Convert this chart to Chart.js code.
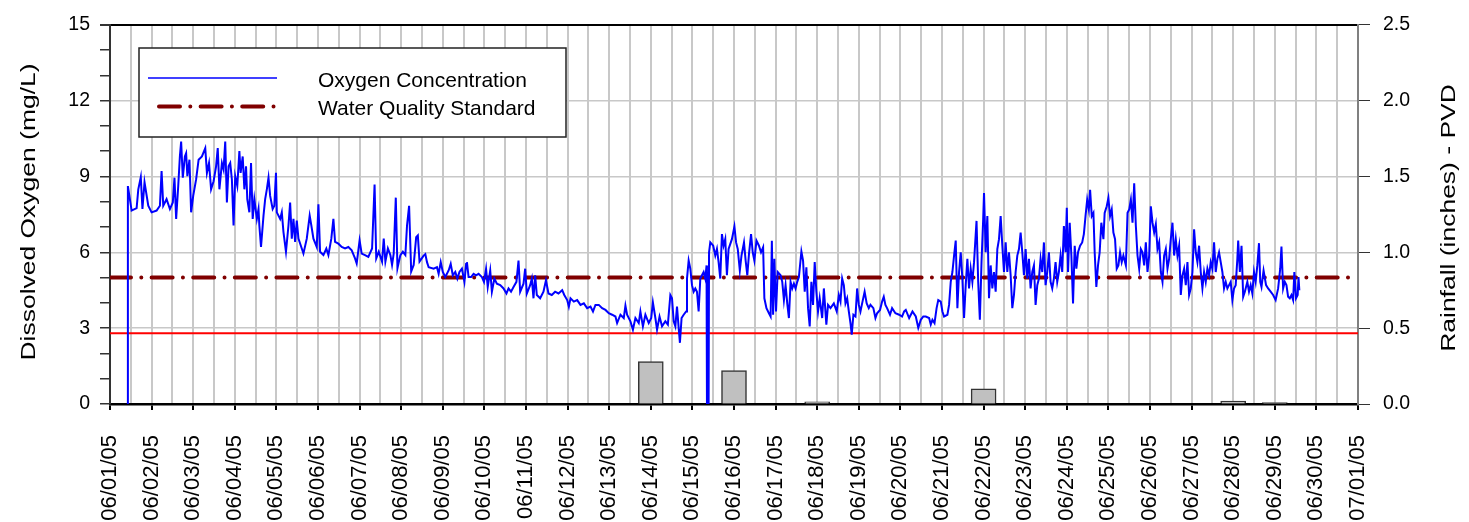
<!DOCTYPE html>
<html lang="en">
<head>
  <meta charset="UTF-8">
  <title>Dissolved Oxygen and Rainfall - June 2005</title>
  <style>
    html, body {
      margin: 0;
      padding: 0;
      background: #fff;
    }
    #wrap {
      width: 1469px;
      height: 522px;
    }
  </style>
</head>
<body>

  <div id="wrap">
    <canvas id="doChart" width="1469" height="522"></canvas>
  </div>

  <script src="https://cdn.jsdelivr.net/npm/chart.js"></script>
  <script>
    // x axis: days after 06/01/05 00:00, one label per day
    const dateLabels = [
      '06/01/05', '06/02/05', '06/03/05', '06/04/05', '06/05/05', '06/06/05', '06/07/05', '06/08/05',
      '06/09/05', '06/10/05', '06/11/05', '06/12/05', '06/13/05', '06/14/05', '06/15/05', '06/16/05',
      '06/17/05', '06/18/05', '06/19/05', '06/20/05', '06/21/05', '06/22/05', '06/23/05', '06/24/05',
      '06/25/05', '06/26/05', '06/27/05', '06/28/05', '06/29/05', '06/30/05', '07/01/05'
    ];

    // oxygen readings, [day, mg/L]
    const oxWeek1 = [
      [0.42, 0], [0.43, 8.62], [0.52, 7.65], [0.64, 7.75], [0.68, 8.49], [0.74, 8.97], [0.78, 7.71], [0.83, 8.77], [0.92, 7.84],
      [1.00, 7.58], [1.12, 7.65], [1.20, 7.84], [1.24, 9.21], [1.28, 7.84], [1.36, 8.10], [1.44, 7.71], [1.51, 7.97], [1.55, 8.95],
      [1.59, 7.32], [1.64, 8.62], [1.68, 9.79], [1.71, 10.38], [1.75, 8.95], [1.80, 9.79], [1.83, 9.92], [1.86, 9.01], [1.91, 9.66], [1.95, 7.58],
      [2.00, 8.23], [2.07, 8.88], [2.13, 9.66], [2.21, 9.79], [2.29, 10.12], [2.33, 9.14], [2.38, 9.53], [2.43, 8.49], [2.49, 8.81], [2.55, 9.40],
      [2.59, 10.12], [2.63, 8.49], [2.69, 9.53], [2.73, 9.27], [2.77, 10.38], [2.81, 7.97], [2.85, 9.40], [2.89, 9.53], [2.93, 8.88], [2.97, 7.06],
      [3.01, 9.01], [3.06, 8.62], [3.11, 10.0], [3.14, 9.14], [3.19, 9.79], [3.23, 8.49], [3.27, 9.40], [3.30, 8.10], [3.35, 7.58], [3.39, 9.53],
      [3.43, 7.32], [3.47, 8.10], [3.53, 7.32], [3.57, 7.71], [3.59, 7.06], [3.63, 6.21], [3.69, 7.45], [3.73, 8.10], [3.77, 8.49], [3.81, 8.95],
      [3.85, 8.23], [3.91, 7.71], [3.95, 7.84], [3.99, 9.14],
      [4.01, 7.58], [4.09, 7.32], [4.13, 7.58], [4.17, 6.80], [4.23, 6.02], [4.29, 7.06], [4.33, 7.97], [4.37, 6.54], [4.41, 7.32], [4.45, 6.41],
      [4.49, 7.25], [4.53, 6.54], [4.61, 6.15], [4.65, 5.95], [4.73, 6.54], [4.80, 7.45], [4.84, 7.06], [4.89, 6.54], [4.97, 6.21],
      [5.01, 7.90], [5.05, 6.02], [5.13, 5.89], [5.20, 6.15], [5.25, 5.89], [5.32, 6.54], [5.37, 7.32], [5.41, 6.41], [5.49, 6.34], [5.57, 6.21],
      [5.65, 6.15], [5.73, 6.21], [5.81, 6.08], [5.89, 5.76], [5.93, 5.56],
      [6.00, 6.47], [6.05, 5.95], [6.13, 5.89], [6.21, 5.82], [6.30, 6.15], [6.36, 8.68], [6.40, 5.76], [6.46, 6.02], [6.54, 5.63], [6.58, 6.54],
      [6.62, 5.63], [6.68, 6.15], [6.74, 5.89], [6.78, 5.50], [6.82, 5.95], [6.87, 8.16], [6.91, 5.37], [6.98, 5.89]
    ];

    const oxWeek2 = [
      [7.04, 6.02], [7.10, 5.89], [7.14, 7.06], [7.19, 7.84], [7.24, 5.24], [7.30, 5.50], [7.36, 6.60], [7.40, 6.67], [7.44, 5.63],
      [7.54, 5.87], [7.58, 5.93], [7.62, 5.61], [7.66, 5.41], [7.78, 5.35], [7.86, 5.41], [7.90, 5.15], [7.95, 5.61],
      [8.00, 5.22], [8.06, 5.02], [8.14, 5.28], [8.19, 5.54], [8.24, 5.09], [8.30, 5.22], [8.35, 4.96], [8.40, 5.22], [8.46, 5.35], [8.52, 4.83],
      [8.56, 5.54], [8.58, 5.61], [8.62, 5.02], [8.68, 5.02], [8.74, 5.15], [8.80, 5.09], [8.86, 5.15], [8.94, 5.02], [8.99, 4.83],
      [9.04, 5.35], [9.08, 4.63], [9.14, 5.28], [9.18, 4.44], [9.24, 4.96], [9.30, 4.76], [9.38, 4.70], [9.46, 4.57], [9.53, 4.37], [9.58, 4.57],
      [9.64, 4.44], [9.70, 4.63], [9.77, 4.83], [9.82, 5.67], [9.86, 4.44], [9.94, 4.76], [9.98, 5.35],
      [10.02, 4.37], [10.10, 4.70], [10.14, 4.96], [10.18, 4.18], [10.22, 5.09], [10.26, 4.31], [10.34, 4.18], [10.42, 4.44], [10.48, 4.89],
      [10.54, 4.37], [10.62, 4.31], [10.70, 4.44], [10.78, 4.37], [10.87, 4.50], [10.92, 4.31], [10.99, 4.11],
      [11.03, 3.85], [11.07, 4.18], [11.15, 4.05], [11.23, 4.11], [11.31, 3.92], [11.39, 3.98], [11.47, 3.79], [11.55, 3.85], [11.61, 3.66],
      [11.67, 3.92], [11.75, 3.92], [11.83, 3.79], [11.91, 3.72], [11.99, 3.59],
      [12.07, 3.53], [12.15, 3.46], [12.19, 3.20], [12.27, 3.53], [12.35, 3.40], [12.39, 3.89], [12.43, 3.53], [12.51, 3.27], [12.57, 2.94],
      [12.63, 3.40], [12.71, 3.20], [12.75, 3.66], [12.81, 3.07], [12.87, 3.53], [12.95, 3.20],
      [13.01, 3.40], [13.05, 4.02], [13.11, 3.40], [13.15, 2.94], [13.21, 3.46], [13.27, 3.07], [13.35, 3.27], [13.41, 3.14], [13.47, 4.31],
      [13.51, 4.18], [13.55, 3.27], [13.59, 3.07], [13.63, 3.85], [13.67, 3.01], [13.70, 2.42], [13.74, 3.40], [13.79, 3.53], [13.85, 3.66],
      [13.87, 4.96], [13.91, 5.67], [13.95, 5.35], [13.99, 4.70]
    ];

    const oxWeek3 = [
      [14.03, 4.44], [14.07, 4.57], [14.11, 4.44], [14.15, 3.66], [14.19, 4.96], [14.23, 5.09], [14.27, 5.22], [14.31, 4.96], [14.34, 5.48],
      [14.35, 0], [14.39, 0], [14.40, 6.00], [14.43, 6.39], [14.50, 6.26], [14.55, 5.87], [14.59, 6.13], [14.63, 5.61], [14.67, 4.96],
      [14.71, 6.72], [14.75, 6.26], [14.79, 6.52], [14.83, 5.09], [14.87, 6.13], [14.95, 6.52],
      [15.01, 7.02], [15.05, 6.39], [15.09, 6.13], [15.14, 5.28], [15.18, 5.87], [15.24, 6.39], [15.28, 5.67], [15.32, 5.09], [15.36, 5.93],
      [15.41, 6.72], [15.45, 6.00], [15.49, 5.67], [15.54, 6.46], [15.60, 6.26], [15.65, 6.00], [15.70, 6.20], [15.73, 4.18], [15.78, 3.79],
      [15.84, 3.59], [15.88, 3.46], [15.91, 6.46], [15.94, 3.53], [15.97, 5.74],
      [16.01, 3.66], [16.05, 5.22], [16.12, 5.09], [16.16, 4.83], [16.20, 4.11], [16.24, 4.70], [16.28, 3.98], [16.32, 3.40], [16.36, 4.83],
      [16.40, 4.57], [16.44, 4.76], [16.48, 4.57], [16.52, 4.83], [16.56, 5.02], [16.62, 6.03], [16.66, 5.67], [16.70, 4.44], [16.74, 5.41],
      [16.78, 3.79], [16.82, 3.07], [16.86, 4.83], [16.90, 3.92], [16.94, 5.61], [16.98, 4.44],
      [17.02, 3.66], [17.06, 4.18], [17.12, 3.40], [17.16, 4.57], [17.22, 3.14], [17.26, 3.92], [17.32, 3.79], [17.40, 3.98], [17.47, 3.66],
      [17.52, 4.31], [17.56, 4.05], [17.60, 4.96], [17.64, 4.70], [17.68, 3.98], [17.72, 4.18], [17.76, 3.66], [17.80, 3.20], [17.83, 2.74],
      [17.87, 3.53], [17.92, 3.46], [17.96, 4.57],
      [18.00, 3.92], [18.04, 3.66], [18.08, 3.98], [18.14, 4.44], [18.19, 3.98], [18.24, 3.79], [18.28, 3.92], [18.35, 3.79], [18.40, 3.40],
      [18.44, 3.59], [18.51, 3.72], [18.56, 4.05], [18.60, 4.24], [18.64, 3.92], [18.68, 3.79], [18.75, 3.53], [18.80, 3.79], [18.88, 3.59],
      [18.97, 3.53],
      [19.04, 3.46], [19.09, 3.66], [19.13, 3.72], [19.21, 3.40], [19.29, 3.66], [19.37, 3.46], [19.43, 3.01], [19.49, 3.33], [19.55, 3.46],
      [19.61, 3.46], [19.69, 3.40], [19.73, 3.14], [19.77, 3.33], [19.82, 3.20], [19.87, 3.79], [19.91, 4.11], [19.97, 4.05],
      [20.01, 3.66], [20.05, 3.46], [20.13, 3.53], [20.17, 3.92], [20.21, 4.83], [20.25, 5.22], [20.29, 5.87], [20.33, 6.46], [20.37, 3.79],
      [20.41, 5.22], [20.45, 6.00], [20.49, 4.96], [20.53, 3.40], [20.57, 4.70], [20.61, 5.74], [20.65, 4.57], [20.69, 5.35], [20.73, 4.83],
      [20.77, 5.61], [20.83, 7.24], [20.87, 4.83], [20.91, 3.33], [20.95, 5.61], [20.99, 7.30]
    ];

    const oxWeek4 = [
      [21.01, 8.34], [21.05, 6.00], [21.09, 7.43], [21.13, 4.18], [21.17, 5.48], [21.21, 4.57], [21.25, 5.22], [21.29, 4.44], [21.33, 6.13],
      [21.37, 6.52], [21.41, 7.43], [21.45, 6.26], [21.49, 5.22], [21.53, 6.39], [21.57, 5.22], [21.61, 6.00], [21.65, 5.09], [21.69, 3.79],
      [21.73, 4.31], [21.77, 5.22], [21.81, 5.87], [21.85, 6.13], [21.89, 6.78], [21.93, 6.00], [21.97, 5.09],
      [22.01, 6.13], [22.05, 4.96], [22.09, 5.74], [22.13, 4.57], [22.17, 5.22], [22.21, 5.48], [22.25, 3.92], [22.29, 4.70], [22.33, 4.96],
      [22.37, 5.74], [22.41, 5.22], [22.45, 6.39], [22.49, 4.70], [22.53, 5.22], [22.57, 6.00], [22.61, 4.83], [22.65, 4.57], [22.69, 4.96],
      [22.73, 5.61], [22.77, 4.83], [22.81, 5.22], [22.85, 5.87], [22.89, 5.22], [22.93, 7.04], [22.97, 6.00],
      [23.00, 7.76], [23.03, 5.22], [23.07, 7.17], [23.11, 5.87], [23.15, 3.98], [23.19, 6.26], [23.23, 5.35], [23.27, 6.00], [23.32, 6.26],
      [23.37, 6.39], [23.41, 6.72], [23.45, 7.43], [23.49, 8.08], [23.53, 7.69], [23.56, 8.47], [23.60, 7.43], [23.64, 7.56], [23.67, 6.00],
      [23.71, 4.63], [23.75, 5.48], [23.79, 6.00], [23.83, 7.17], [23.88, 6.52], [23.91, 7.56], [23.96, 7.82],
      [24.00, 8.15], [24.04, 7.43], [24.08, 7.69], [24.12, 6.78], [24.16, 6.52], [24.20, 5.35], [24.24, 5.48], [24.28, 6.00], [24.32, 5.61],
      [24.36, 5.87], [24.42, 5.48], [24.46, 7.56], [24.50, 7.69], [24.54, 8.08], [24.58, 7.17], [24.62, 8.73], [24.66, 7.04], [24.70, 5.87],
      [24.74, 5.35], [24.78, 6.13], [24.82, 6.00], [24.86, 5.48], [24.90, 6.39], [24.94, 5.22], [24.98, 5.87],
      [25.02, 7.82], [25.06, 7.17], [25.10, 6.78], [25.14, 7.11], [25.18, 6.13], [25.22, 6.39], [25.26, 5.22], [25.30, 4.83], [25.34, 5.87],
      [25.38, 6.13], [25.42, 5.35], [25.46, 5.74], [25.50, 6.52], [25.54, 7.17], [25.58, 5.87], [25.62, 6.52], [25.66, 5.87], [25.70, 6.26],
      [25.74, 4.31], [25.78, 5.09], [25.82, 5.35], [25.86, 4.70], [25.90, 5.61], [25.94, 4.31], [25.98, 4.57],
      [26.02, 5.22], [26.06, 6.91], [26.10, 6.00], [26.14, 5.61], [26.18, 6.26], [26.22, 5.22], [26.26, 4.57], [26.30, 5.22], [26.34, 4.83],
      [26.38, 5.35], [26.42, 5.09], [26.46, 5.61], [26.50, 5.35], [26.54, 6.39], [26.58, 5.22], [26.62, 5.74], [26.66, 6.00], [26.70, 5.61],
      [26.74, 5.22], [26.78, 4.57], [26.82, 4.83], [26.86, 4.57], [26.90, 4.70], [26.94, 4.83], [26.98, 4.11],
      [27.02, 4.57], [27.06, 4.70], [27.10, 5.74], [27.12, 6.46], [27.16, 5.22], [27.20, 6.26], [27.24, 4.24], [27.28, 4.44], [27.34, 4.83],
      [27.38, 4.44], [27.42, 4.70], [27.46, 4.37], [27.50, 5.22], [27.54, 4.83], [27.58, 5.48], [27.62, 6.36], [27.65, 4.83], [27.68, 4.63],
      [27.73, 5.28], [27.79, 4.70], [27.84, 4.57], [27.90, 4.44], [27.96, 4.31]
    ];

    const oxWeek5 = [
      [28.02, 4.11], [28.08, 4.57], [28.13, 5.35], [28.16, 6.23], [28.20, 4.57], [28.24, 4.83], [28.28, 4.70], [28.32, 4.24], [28.36, 4.18],
      [28.40, 4.31], [28.44, 4.11], [28.47, 5.22], [28.51, 4.18], [28.55, 4.31], [28.57, 5.02], [28.59, 4.50]
    ];

    // daily rainfall at PVD (inches), only the days with rain
    const rainDays = [13, 15, 17, 21, 27, 28];
    const rainInches = [0.28, 0.22, 0.015, 0.10, 0.02, 0.01];

    // horizontal reference lines, [day, mg/L]
    const standardLine = [[0, 5], [30, 5]];
    const redLine = [[0, 2.8], [30, 2.8]];

    const FONT = 'Arial, "Liberation Sans", sans-serif';
    const toPoints = pairs => pairs.map(p => ({ x: p[0], y: p[1] }));
    const oxygenPoints = toPoints([].concat(oxWeek1, oxWeek2, oxWeek3, oxWeek4, oxWeek5));
    const rainPoints = rainDays.map((d, i) => ({ x: d, y: rainInches[i] }));
    const clear = 'rgba(0,0,0,0)';

    // axis titles (stretched like the original) and the boxed legend
    const extras = {
      id: 'extras',
      afterDraw(chart) {
        const ctx = chart.ctx;
        function vTitle(text, x, y) {
          ctx.save();
          ctx.translate(x, y);
          ctx.rotate(-Math.PI / 2);
          ctx.scale(1.26, 1);
          ctx.font = '21px ' + FONT;
          ctx.fillStyle = '#000';
          ctx.textAlign = 'center';
          ctx.textBaseline = 'alphabetic';
          ctx.fillText(text, 0, 0);
          ctx.restore();
        }
        vTitle('Dissolved Oxygen (mg/L)', 35, 212);
        vTitle('Rainfall (inches) - PVD', 1455, 218);

        const ds = chart.data.datasets;
        ctx.save();
        ctx.fillStyle = '#fff';
        ctx.fillRect(139, 48, 427, 89);
        ctx.strokeStyle = '#222';
        ctx.lineWidth = 1.5;
        ctx.strokeRect(139, 48, 427, 89);

        ctx.strokeStyle = ds[0].borderColor;
        ctx.lineWidth = 1.5;
        ctx.beginPath();
        ctx.moveTo(148, 78);
        ctx.lineTo(277, 78);
        ctx.stroke();

        ctx.strokeStyle = ds[1].borderColor;
        ctx.lineWidth = 4;
        ctx.lineCap = 'round';
        ctx.setLineDash(ds[1].borderDash);
        ctx.beginPath();
        ctx.moveTo(159, 106.5);
        ctx.lineTo(277, 106.5);
        ctx.stroke();
        ctx.setLineDash([]);

        ctx.fillStyle = '#000';
        ctx.font = '21px ' + FONT;
        ctx.textAlign = 'left';
        ctx.textBaseline = 'alphabetic';
        ctx.fillText(ds[0].label, 318, 87);
        ctx.fillText(ds[1].label, 318, 114.5);
        ctx.restore();
      }
    };

    new Chart(document.getElementById('doChart'), {
      type: 'line',
      data: {
        datasets: [
          {
            label: 'Oxygen Concentration',
            data: oxygenPoints,
            borderColor: '#0000ff',
            borderWidth: 2,
            pointRadius: 0,
            tension: 0,
            yAxisID: 'y',
            order: 1
          },
          {
            label: 'Water Quality Standard',
            data: toPoints(standardLine),
            borderColor: '#800000',
            borderWidth: 4,
            borderDash: [21, 10.3, 0.01, 10.3],
            borderCapStyle: 'round',
            pointRadius: 0,
            yAxisID: 'y',
            order: 2
          },
          {
            label: 'Limit',
            data: toPoints(redLine),
            borderColor: '#ff0000',
            borderWidth: 2,
            pointRadius: 0,
            yAxisID: 'y',
            order: 3
          },
          {
            type: 'bar',
            label: 'Rainfall',
            data: rainPoints,
            backgroundColor: '#c0c0c0',
            borderColor: '#333',
            borderWidth: 1.5,
            barThickness: 25,
            yAxisID: 'yRain',
            order: 4
          }
        ]
      },
      options: {
        responsive: false,
        animation: false,
        events: [],
        parsing: false,
        layout: { padding: { top: 20, bottom: 0, left: 0, right: 0 } },
        plugins: {
          legend: { display: false },
          tooltip: { enabled: false }
        },
        scales: {
          x: {
            type: 'linear',
            position: 'bottom',
            min: 0,
            max: 30,
            offset: false,
            afterFit: s => { s.height = 118; },
            ticks: {
              stepSize: 0.5,
              autoSkip: false,
              minRotation: 90,
              maxRotation: 90,
              padding: 25,
              color: '#000',
              font: { family: FONT, size: 22 },
              callback: v => Number.isInteger(v) ? dateLabels[v] : ''
            },
            grid: {
              offset: false,
              color: c => (c.tick && (c.tick.value === 0 || c.tick.value === 30)) ? clear : '#c8c8c8',
              lineWidth: 2,
              tickLength: 6,
              tickColor: c => (c.tick && Number.isInteger(c.tick.value)) ? '#000' : clear
            },
            border: { color: '#000', width: 2.5 }
          },
          y: {
            position: 'left',
            min: 0,
            max: 15,
            afterFit: s => { s.width = 110; },
            ticks: {
              stepSize: 1,
              autoSkip: false,
              padding: 10,
              color: '#000',
              font: { family: FONT, size: 19.5 },
              callback: v => v % 3 === 0 ? String(v) : ''
            },
            grid: {
              color: c => {
                const v = c.tick ? c.tick.value : -1;
                if (v === 15) return '#000';
                if (v > 0 && v % 3 === 0) return '#c8c8c8';
                return clear;
              },
              lineWidth: c => (c.tick && c.tick.value === 15) ? 2 : 1.5,
              tickLength: 10,
              tickColor: '#333'
            },
            border: { color: '#333', width: 2 }
          },
          yRain: {
            position: 'right',
            min: 0,
            max: 2.5,
            afterFit: s => { s.width = 111; },
            ticks: {
              stepSize: 0.5,
              autoSkip: false,
              padding: 13,
              color: '#000',
              font: { family: FONT, size: 19.5 },
              callback: v => Number(v).toFixed(1)
            },
            grid: {
              drawOnChartArea: false,
              tickLength: 12,
              tickColor: '#333'
            },
            border: { color: '#808080', width: 2 }
          }
        }
      },
      plugins: [extras]
    });
  </script>

</body>
</html>
